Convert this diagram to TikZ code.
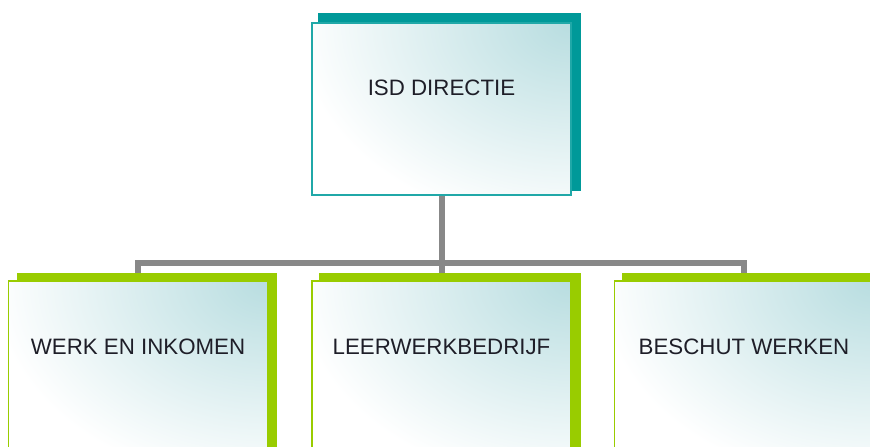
\documentclass[tikz,border=0pt]{standalone}
\usepackage{fontspec}
\setmainfont{Liberation Sans}
\usetikzlibrary{calc}
\pgfdeclarelayer{background}
\pgfsetlayers{background,main}

\definecolor{dirteal}{RGB}{0,153,153}
\definecolor{dirline}{RGB}{32,168,168}
\definecolor{unitgreen}{RGB}{153,204,0}
\definecolor{linkgray}{RGB}{136,136,136}
\definecolor{fadeblue}{RGB}{184,221,224}
\definecolor{textdark}{RGB}{30,30,40}

\tikzset{
  orgbox/.style={draw=#1, fill=white, line width=1.3pt, minimum width=259pt,
    minimum height=172pt, inner sep=0pt,
    path picture={\shade[inner color=fadeblue, outer color=white]
      (path picture bounding box.north east) ellipse (275pt and 205pt);}},
  boxlabel/.style={font=\fontsize{22.3}{26}\selectfont, text=textdark,
    inner sep=0pt},
  conn/.style={draw=linkgray, line width=6pt},
}

\begin{document}
\begin{tikzpicture}[x=1pt,y=-1pt]
  \useasboundingbox (0,0) rectangle (870,447);

  % front boxes
  \node[orgbox=dirline,
        label={[boxlabel,name=topText,yshift=21pt]center:ISD DIRECTIE}]
        (top) at (441.5,109) {};
  \node[orgbox=unitgreen,
        label={[boxlabel,name=b1Text,yshift=20pt]center:WERK EN INKOMEN}]
        (b1) at (138,367) {};
  \node[orgbox=unitgreen,
        label={[boxlabel,name=b2Text,yshift=20pt]center:LEERWERKBEDRIJF}]
        (b2) at (441.5,367) {};
  \node[orgbox=unitgreen,
        label={[boxlabel,name=b3Text,yshift=20pt]center:BESCHUT WERKEN}]
        (b3) at (744,367) {};

  \coordinate (bus) at (0,263);

  \begin{pgfonlayer}{background}
    \fill[white] (0,0) rectangle (870,447);
    % connectors
    \draw[conn] (b1.north) -- (b1.north |- bus) -- (b3.north |- bus) -- (b3.north);
    \draw[conn] (top.south) -- (b2.north);
    % offset shadows
    \fill[dirteal] ($(top.south west)+(7,-5)$) rectangle ($(top.north east)+(9,-9)$);
    \fill[unitgreen] ($(b1.south west)+(9,-7)$) rectangle ($(b1.north east)+(9,-7)$);
    \fill[unitgreen] ($(b2.south west)+(8,-7)$) rectangle ($(b2.north east)+(9,-7)$);
    \fill[unitgreen] ($(b3.south west)+(8,-7)$) rectangle ($(b3.north east)+(9,-7)$);
  \end{pgfonlayer}
\end{tikzpicture}
\end{document}
